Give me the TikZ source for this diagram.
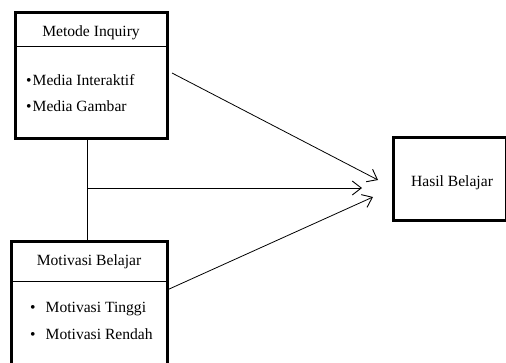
\documentclass[tikz,border=0pt]{standalone}
\usepackage{fontspec}
\setmainfont{Liberation Serif}
\usetikzlibrary{arrows.meta,calc}
\begin{document}
\begin{tikzpicture}[x=1pt,y=-1pt,
  box/.style={draw,line width=3pt,rectangle,inner sep=0pt},
  divider/.style={line width=0.9pt},
  txt/.style={font=\fontsize{15.6}{18}\selectfont,inner sep=0pt},
  item/.style={txt,anchor=west},
  conn/.style={line width=0.8pt},
  arr/.style={conn,-{Straight Barb[length=9pt,width=14pt,line width=0.9pt]}}]
\useasboundingbox (0,0) rectangle (506,362);
% box 1
\node[box,minimum width=152pt,minimum height=126pt] (b1) at (91,75) {};
\draw[divider] (15,46) coordinate (d1l) -- (167,46) coordinate (d1r);
\node[txt] (t1) at (91,33) {Metode Inquiry};
\node[item] (i1a) at (26,80) {•\hspace{1pt}Media Interaktif};
\node[item] (i1b) at (26,106) {•\hspace{1pt}Media Gambar};
% box 2
\node[box,minimum width=156pt,minimum height=126pt] (b2) at (89,304) {};
\draw[divider] (11,281) coordinate (d2l) -- (167,281) coordinate (d2r);
\node[txt] (t2) at (89,262) {Motivasi Belajar};
\node[item] (i2a) at (30,309) {•\hspace{10pt}Motivasi Tinggi};
\node[item] (i2b) at (30,334) {•\hspace{10pt}Motivasi Rendah};
% box 3
\node[box,minimum width=113pt,minimum height=83pt] (b3) at (449.5,178.5) {};
\node[txt] (t3) at (452,183) {Hasil Belajar};
% connectors
\coordinate (top) at (87,138);
\coordinate (bot) at (87,241);
\coordinate (j) at (87,188);
\coordinate (e1) at (378,180);
\coordinate (e2) at (362,188);
\coordinate (e3) at (373,197);
\coordinate (s1) at (172,73);
\coordinate (s3) at (167,290);
\draw[conn] (top) -- (bot);
\draw[arr] (s1) -- (e1);
\draw[arr] (j) -- (e2);
\draw[arr] (s3) -- (e3);
\end{tikzpicture}
\end{document}
